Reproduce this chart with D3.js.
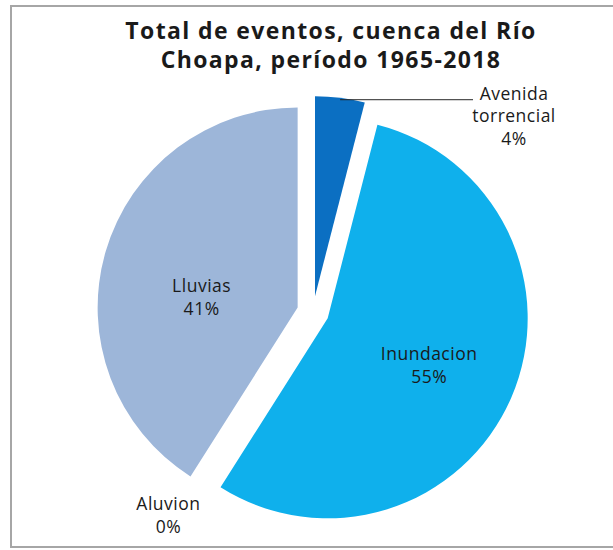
<!DOCTYPE html>
<html lang="es">
<head>
<meta charset="utf-8">
<script src="https://cdn.jsdelivr.net/npm/d3@7"></script>
<style>
  html, body { margin: 0; padding: 0; background: #fff; }
  svg { display: block; }
  text { font-family: "Open Sans", "Noto Sans", sans-serif; fill: #1a1a1a; }
</style>
</head>
<body>
<svg id="chart" width="613" height="550"></svg>
<script>
// Event types recorded in the Choapa basin, 1965-2018 (share of total, %)
const categories = ["Avenida torrencial", "Inundacion", "Aluvion", "Lluvias"];
const shares = [4, 55, 0, 41];
const labelLines = [["Avenida", "torrencial"], ["Inundacion"], ["Aluvion"], ["Lluvias"]];
const titleLines = ["Total de eventos, cuenca del Río", "Choapa, período 1965-2018"];

const colors = d3.scaleOrdinal()
  .domain(categories)
  .range(["#0b6fc2", "#0fb0ec", "#7f7f7f", "#9db6d9"]);

const svg = d3.select("#chart");
const W = 613, H = 550;

// chart-area frame
svg.append("rect")
  .attr("x", 11).attr("y", 6)
  .attr("width", W + 20).attr("height", 541)
  .attr("fill", "#fff")
  .attr("stroke", "#a6a6a6").attr("stroke-width", 2);

// title, letter-spaced so the first line spans the top of the frame
const titleSize = 23;
const title = svg.append("g").selectAll("text")
  .data(titleLines)
  .join("text")
  .attr("x", 331)
  .attr("y", (d, i) => 39 + i * 29)
  .attr("text-anchor", "middle")
  .attr("font-size", titleSize)
  .attr("font-weight", 700)
  .text(d => d);
const firstW = title.node().getComputedTextLength();
const spacing = Math.max(0, (410 - firstW) / (titleLines[0].length - 1));
title.attr("letter-spacing", spacing);

const cx = 313, cy = 312, R = 200, explode = 16;

const pie = d3.pie().sort(null).value(d => d.v);
const arcs = pie(categories.map((c, i) => ({ c, v: shares[i], lines: labelLines[i] })));
const arc = d3.arc().innerRadius(0).outerRadius(R);

const mid = d => (d.startAngle + d.endAngle) / 2;
const offset = d => [Math.sin(mid(d)) * explode, -Math.cos(mid(d)) * explode];

const g = svg.append("g").attr("transform", `translate(${cx},${cy})`);

g.selectAll("path")
  .data(arcs.filter(d => d.data.v > 0))
  .join("path")
  .attr("transform", d => `translate(${offset(d)})`)
  .attr("d", arc)
  .attr("fill", d => colors(d.data.c));

// data labels: inside for the large slices, outside for the small ones
const labelPos = d => {
  const [ox, oy] = offset(d);
  const a = mid(d);
  if (d.data.c === "Inundacion") {
    return [ox + Math.sin(a) * R * 0.52 + 6, oy - Math.cos(a) * R * 0.52 + 6];
  }
  if (d.data.c === "Lluvias") {
    return [ox + Math.sin(a) * R * 0.5, oy - Math.cos(a) * R * 0.5 + 18];
  }
  if (d.data.c === "Aluvion") {
    return [Math.sin(a) * R * 1.2 - 16, -Math.cos(a) * R * 1.2 + 1];
  }
  // Avenida torrencial: label to the right, with a leader line
  return [201, -196];
};

const lineH = 22.5;
const labels = g.append("g").selectAll("g")
  .data(arcs)
  .join("g")
  .attr("transform", d => `translate(${labelPos(d)})`);

labels.each(function (d) {
  const lines = d.data.lines.concat([d3.format(".0f")(d.data.v) + "%"]);
  const n = lines.length;
  d3.select(this).selectAll("text")
    .data(lines)
    .join("text")
    .attr("text-anchor", "middle")
    .attr("font-size", 17.5)
    .attr("letter-spacing", 0.5)
    .attr("y", (t, i) => (i - (n - 1) / 2) * lineH + 6)
    .text(t => t);
});

// leader line for the thin slice
const thin = arcs[0];
const [tx, ty] = offset(thin);
const edgeX = tx + Math.sin(mid(thin)) * R;
const edgeY = ty - Math.cos(mid(thin)) * R + 2;
g.append("line")
  .attr("x1", edgeX).attr("y1", edgeY)
  .attr("x2", 160).attr("y2", edgeY)
  .attr("stroke", "#262626").attr("stroke-width", 1);
</script>
</body>
</html>
